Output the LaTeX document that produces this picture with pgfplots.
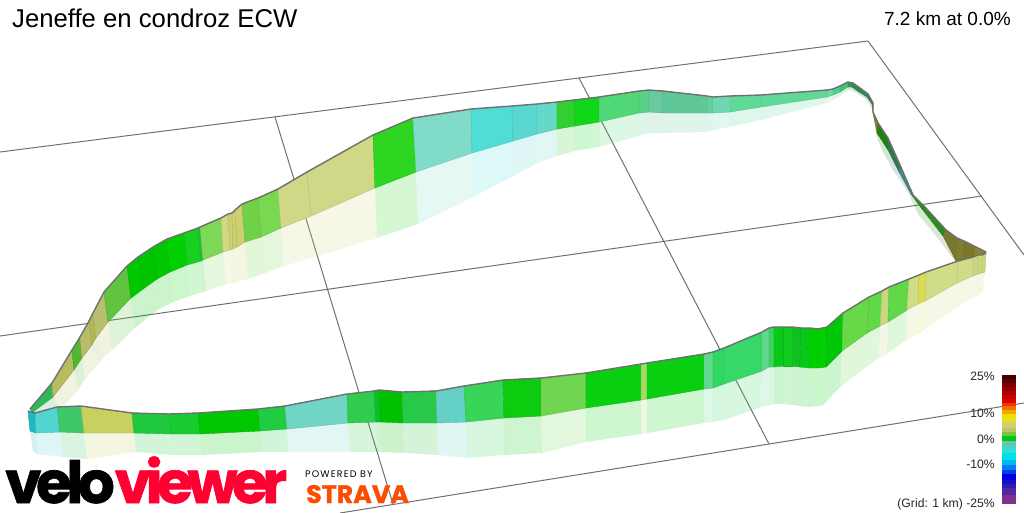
\documentclass[border=0pt]{standalone}
\usepackage{fontspec}
\setmainfont{Liberation Sans}
\newfontfamily\logofont{Poppins}[BoldFeatures={FakeBold=1.2}]
\usepackage{pgfplots}
\pgfplotsset{compat=1.18}
\definecolor{gridc}{HTML}{707070}
\definecolor{vred}{HTML}{FF0033}
\definecolor{strava}{HTML}{FC4C02}

% ribbon pieces: each station gives top, foot of wall, foot of reflection
\newcommand\startstrip[3]{\xdef\prevT{#1}\xdef\prevB{#2}\xdef\prevS{#3}\xdef\topline{(#1)}}
\newcommand\st[4]{%
  \xglobal\definecolor{v#1}{HTML}{#1}%
  \edef\tmp{\noexpand\addplot[fill=v#1,fill opacity=0.2,draw=none] coordinates {(\prevB)(#3)(#4)(\prevS)} --cycle;
    \noexpand\addplot[fill=v#1,draw=v#1!88!black,line width=0.4pt] coordinates {(\prevT)(#2)(#3)(\prevB)} --cycle;}\tmp
  \xdef\prevT{#2}\xdef\prevB{#3}\xdef\prevS{#4}\xdef\topline{\topline(#2)}}
\newcommand\finishstrip{\edef\tmp{\noexpand\addplot[gridc,line width=1.4pt,line join=round] coordinates {\topline};}\tmp}
\newcommand\band[3]{\xglobal\definecolor{v#3}{HTML}{#3}\addplot[fill=v#3,draw=v#3,line width=0.1pt] coordinates {(1002,#1)(1015,#1)(1015,#2)(1002,#2)} --cycle;}
\newcommand\scalelab[2]{\node[anchor=base east,inner sep=0pt,font=\fontsize{12.2}{15}\selectfont,text=black!85] at (axis cs:995,#1) {#2};}

\begin{document}
\begin{tikzpicture}
\begin{axis}[
  scale only axis, width=1024pt, height=512pt,
  xmin=0, xmax=1024, ymin=0, ymax=512, y dir=reverse,
  hide axis, no markers, clip=true,
]
% 1 km grid
\addplot[gridc,line width=1pt] coordinates {(0,152) (868,41)};
\addplot[gridc,line width=1pt] coordinates {(0,336) (982,196)};
\addplot[gridc,line width=1pt] coordinates {(340,513) (1024,403)};
\addplot[gridc,line width=1pt] coordinates {(868,41) (1024,255)};
\addplot[gridc,line width=1pt] coordinates {(579,78) (769,444)};
\addplot[gridc,line width=1pt] coordinates {(275,117) (393,504)};

% left side and far side
\startstrip{30,409}{33,412}{40,420}
\st{30B858}{52,383}{53,397}{60,410}
\st{B8BC60}{72,350}{74,370}{78,390}
\st{50B830}{80,337}{82,358}{85,379}
\st{B8BC68}{89,321}{92,345}{100,362}
\st{B0B850}{93,313}{96,338}{103,358}
\st{B8C070}{104,292}{108,322}{112,350}
\st{60C440}{127,266}{131,298}{135,328}
\st{00C800}{138,257}{143,289}{148,317}
\st{00C400}{153,247}{157,279}{159,309}
\st{00C800}{167,239}{170,272}{173,302}
\st{00D000}{184,233}{187,265}{190,296}
\st{18D020}{198,228}{201,261}{203,292}
\st{20C030}{200,227}{203,260}{206,291}
\st{80D858}{221,218}{223,252}{226,284}
\st{D0D880}{228,214}{230,250}{233,283}
\st{CCD070}{232,213}{233,249}{237,282}
\st{CCD070}{235,210}{237,247}{240,281}
\st{CCD070}{242,204}{245,242}{248,279}
\st{70D048}{258,198}{261,237}{265,273}
\st{78D850}{278,189}{281,228}{283,266}
\st{D0D888}{307,172}{311,216}{312,258}
\st{D0D888}{373,135}{375,188}{377,238}
\st{2DD520}{413,118}{416,172}{418,224}
\st{80DCC8}{471,109}{472,153}{473,197}
\st{50DDD5}{512,106}{513,141}{513,176}
\st{58D8D0}{537,104}{537,134}{538,163}
\st{65D8C8}{557,102}{557,129}{557,156}
\st{30D030}{574,100}{575,126}{575,151}
\st{10D818}{599,97}{599,122}{599,147}
\st{50D878}{639,91}{639,113}{639,136}
\st{58D088}{649,90}{649,112}{649,133}
\st{68C8A0}{663,91}{663,113}{663,133}
\st{60C898}{707,96}{707,113}{707,132}
\st{60D0A0}{713,97}{713,113}{713,130}
\st{70D8B0}{730,96}{730,112}{730,127}
\st{60D898}{761,95}{761,107}{761,120}
\st{60D898}{827,90}{827,97}{827,103}
\st{70D8A8}{833,89}{833,95}{833,100}
\st{50D090}{840,86}{840,92}{840,96}
\st{40C870}{848,82}{848,87}{848,90}
\st{2F9858}{853,83}{852,87}{851,90}
\st{2A8A50}{860,88}{859,92}{858,94}
\st{338A50}{868,94}{867,97}{866,99}
\st{308048}{873,103}{872,104}{870,105}
\st{707030}{873,112}{873,113}{873,113}
\st{888030}{878,123}{877,133}{876,135}
\st{208010}{888,138}{888,150}{882,150}
\st{2A7A48}{900,165}{899,172}{893,170}
\st{3F8888}{913,195}{911,194}{909,194}
\st{2A8A20}{925,207}{922,209}{918,214}
\st{2F8A20}{946,230}{943,236}{937,237}
\st{7A7830}{957,238}{956,261}{948,252}
\st{807C30}{964,241}{964,259}{957,261}
\st{7A7828}{974,246}{974,257}{974,257}
\st{888430}{986,252}{986,254}{986,254}
\finishstrip

% near side
\startstrip{28,411}{30,431}{33,451}
\st{20B8C0}{35,413}{36,433}{38,454}
\st{50D5D0}{57,407}{60,432}{63,457}
\st{40C868}{81,406}{84,433}{87,459}
\st{C8D060}{132,413}{134,433}{136,452}
\st{20C840}{169,414}{172,434}{173,455}
\st{18CC30}{198,413}{200,434}{202,455}
\st{00C800}{258,409}{260,431}{262,452}
\st{20CC40}{285,406}{287,429}{288,452}
\st{70D5C5}{347,394}{348,423}{350,452}
\st{30CC50}{374,391}{376,422}{378,452}
\st{08C028}{379,390}{381,422}{383,452}
\st{00C000}{402,392}{403,423}{404,453}
\st{28C848}{436,391}{437,423}{438,455}
\st{65D0C5}{464,386}{466,422}{467,458}
\st{38D558}{503,380}{504,418}{504,455}
\st{0CCC10}{541,378}{541,416}{542,453}
\st{70D550}{586,373}{586,408}{586,442}
\st{08D010}{641,364}{641,400}{641,434}
\st{A8D868}{647,363}{647,399}{647,433}
\st{08D010}{704,354}{704,389}{704,423}
\st{60D890}{713,352}{713,388}{713,422}
\st{30D860}{724,348}{724,384}{724,420}
\st{38D868}{762,332}{762,371}{761,407}
\st{60D890}{769,328}{769,367}{769,405}
\st{40D060}{774,327}{774,367}{774,404}
\st{08C818}{783,327}{783,366}{783,404}
\st{10CC20}{792,327}{792,366}{792,405}
\st{10C020}{801,328}{800,367}{800,406}
\st{08C818}{810,328}{810,368}{810,407}
\st{00D000}{818,329}{818,368}{818,406}
\st{00D000}{827,327}{826,367}{823,405}
\st{00C808}{843,313}{842,351}{840,387}
\st{68D848}{869,297}{867,333}{866,367}
\st{60D848}{882,291}{880,326}{879,358}
\st{C8D880}{889,287}{888,322}{887,354}
\st{60D848}{909,279}{907,310}{906,340}
\st{D0DC88}{919,275}{918,304}{917,335}
\st{DCDC50}{926,272}{925,301}{924,330}
\st{D0DC88}{958,261}{957,283}{956,308}
\st{D0DC88}{973,257}{973,276}{972,298}
\st{C8D880}{978,255}{978,274}{978,295}
\st{C8D880}{982,255}{982,273}{981,293}
\st{C8D880}{986,253}{985,272}{983,290}
\finishstrip

% gradient scale
\band{375}{379}{400000}\band{379}{383}{600000}\band{383}{387}{7A0000}\band{387}{391}{940000}
\band{391}{395}{B00000}\band{395}{399}{C80000}\band{399}{403}{E00000}\band{403}{406}{E83800}
\band{406}{410}{F07000}\band{410}{414}{F0A800}\band{414}{418}{F0E000}\band{418}{422}{E8E020}
\band{422}{428}{D0D070}\band{428}{432}{B8C868}\band{432}{436}{70C840}\band{436}{441}{00C810}
\band{441}{445}{60C8B0}\band{445}{449}{50D0C0}\band{449}{453}{30E0E0}\band{453}{460}{00E0E8}
\band{460}{465}{00B8EC}\band{465}{470}{0080F0}\band{470}{474}{0040E8}\band{474}{480}{0000E0}
\band{480}{484}{1810C8}\band{484}{488}{3020B0}\band{488}{495}{5028A0}\band{495}{503}{803090}

% texts
\node[anchor=base west,inner sep=0pt,font=\fontsize{25.7}{28}\selectfont] at (axis cs:12,27) {Jeneffe en condroz ECW};
\node[anchor=base east,inner sep=0pt,font=\fontsize{19}{22}\selectfont] at (axis cs:1011,25) {7.2 km at 0.0\%};
\scalelab{380}{25\%}
\scalelab{417}{10\%}
\scalelab{443}{0\%}
\scalelab{468}{-10\%}
\scalelab{507}{(Grid: 1 km) -25\%}
\node[anchor=base west,inner sep=0pt,font=\logofont\bfseries\fontsize{58}{58}\selectfont] at (axis cs:5,503) {\addfontfeature{LetterSpace=-9.5}velo\textcolor{vred}{viewer}};
\node[anchor=base west,inner sep=0pt,font=\logofont\fontsize{9.5}{10}\selectfont] at (axis cs:305,477) {\addfontfeature{LetterSpace=12}POWERED BY};
\node[anchor=base west,inner sep=0pt,text=strava,font=\logofont\bfseries\fontsize{25.3}{28}\selectfont] at (axis cs:306,503) {STRAVA};
\end{axis}
\pgfresetboundingbox
\useasboundingbox (current axis.south west) rectangle (current axis.north east);
\end{tikzpicture}
\end{document}
